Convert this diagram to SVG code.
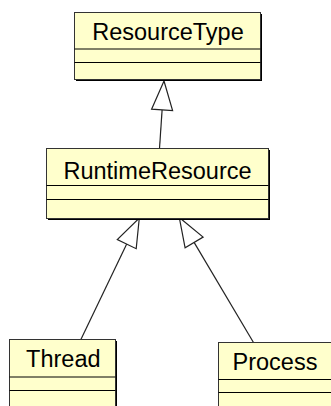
<svg xmlns="http://www.w3.org/2000/svg" width="331" height="406" viewBox="0 0 331 406">
<style>
.shadow{fill:#000}
.box{fill:#ffffcc;stroke:#333;stroke-width:1}
.sep{stroke:#000;stroke-width:1}
.lbl{font-family:"Liberation Sans",Arial,sans-serif;font-size:23.5px;fill:#000;text-anchor:middle}
.edge{stroke:#222;stroke-width:1.2;fill:none}
.head{fill:#fff;stroke:#222;stroke-width:1.2}
</style>
<rect width="331" height="406" fill="#fff"/>
<g id="connectors">
<line class="edge" x1="162.1" y1="109.9" x2="159.5" y2="148.7"/>
<polygon class="head" points="164,81 172.6,110.6 151.6,109.2"/>
<line class="edge" x1="126.7" y1="244.1" x2="81" y2="339.3"/>
<polygon class="head" points="139.3,218 136.2,248.7 117.3,239.6"/>
<line class="edge" x1="194.1" y1="242.4" x2="253.5" y2="342.5"/>
<polygon class="head" points="179.3,217.5 203.1,237.1 185.1,247.8"/>
</g>
<g id="ResourceType">
<rect class="shadow" x="76" y="14" width="186" height="67"/>
<rect class="box" x="74.5" y="12.5" width="186" height="67"/>
<line class="sep" x1="74.5" y1="49" x2="260.5" y2="49"/>
<line class="sep" x1="74.5" y1="62.5" x2="260.5" y2="62.5"/>
<text class="lbl" x="168" y="39.5">ResourceType</text>
</g>
<g id="RuntimeResource">
<rect class="shadow" x="48" y="150" width="222" height="70"/>
<rect class="box" x="46.5" y="148.5" width="222" height="70"/>
<line class="sep" x1="46.5" y1="185.5" x2="268.5" y2="185.5"/>
<line class="sep" x1="46.5" y1="199.5" x2="268.5" y2="199.5"/>
<text class="lbl" x="157.5" y="178.7">RuntimeResource</text>
</g>
<g id="Thread">
<rect class="shadow" x="11" y="341" width="106" height="80"/>
<rect class="box" x="9.5" y="339.5" width="106" height="80"/>
<line class="sep" x1="9.5" y1="377" x2="115.5" y2="377"/>
<line class="sep" x1="9.5" y1="390.5" x2="115.5" y2="390.5"/>
<text class="lbl" x="63.3" y="367.3">Thread</text>
</g>
<g id="Process">
<rect class="shadow" x="220" y="344" width="130" height="80"/>
<rect class="box" x="218.5" y="342.5" width="130" height="80"/>
<line class="sep" x1="218.5" y1="379.5" x2="348.5" y2="379.5"/>
<line class="sep" x1="218.5" y1="392.5" x2="348.5" y2="392.5"/>
<text class="lbl" x="275" y="370">Process</text>
</g>
</svg>
